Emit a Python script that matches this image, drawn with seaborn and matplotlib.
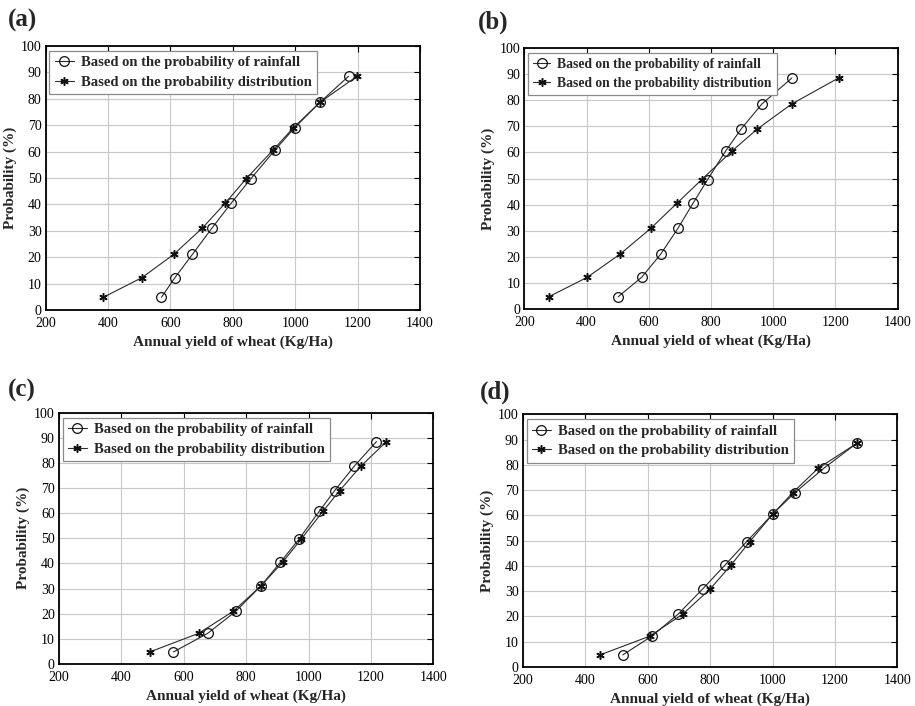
import matplotlib
matplotlib.use("Agg")
import matplotlib.pyplot as plt
import seaborn as sns
import pandas as pd

# Probability levels (%)
prob = [4.8, 12.2, 21.0, 31.0, 40.5, 49.6, 60.7, 69.0, 78.6, 88.5]

# Panel (a)
a_rain = [571, 614, 670, 733, 795, 857, 936, 998, 1079, 1171]
a_dist = [385, 508, 610, 702, 776, 842, 930, 994, 1079, 1198]
# Panel (b)
b_rain = [502, 577, 638, 694, 742, 789, 848, 897, 964, 1060]
b_dist = [279, 402, 507, 607, 690, 770, 869, 949, 1060, 1210]
# Panel (c)
c_rain = [567, 677, 767, 847, 910, 969, 1034, 1084, 1146, 1218]
c_dist = [491, 648, 759, 847, 917, 976, 1046, 1100, 1167, 1250]
# Panel (d)
d_rain = [520, 613, 698, 777, 849, 917, 1002, 1072, 1164, 1270]
d_dist = [447, 606, 713, 801, 868, 927, 1002, 1065, 1146, 1270]

panel_labels = ["(a)", "(b)", "(c)", "(d)"]
series_labels = ["Based on the probability of rainfall",
                 "Based on the probability distribution"]
xlabel = "Annual yield of wheat (Kg/Ha)"
ylabel = "Probability (%)"
xticks = [200, 400, 600, 800, 1000, 1200, 1400]
yticks = [0, 10, 20, 30, 40, 50, 60, 70, 80, 90, 100]

sns.set_style("white")
plt.rcParams["font.family"] = ["Liberation Serif", "DejaVu Serif"]

fig = plt.figure(figsize=(9.15, 7.06), dpi=100)

positions = [
    [0.050, 0.561, 0.409, 0.374],
    [0.573, 0.562, 0.408, 0.370],
    [0.0645, 0.0595, 0.409, 0.356],
    [0.5716, 0.0552, 0.409, 0.358],
]
label_pos = [(8 / 915, 1 - 20 / 706), (478 / 915, 1 - 22 / 706),
             (8 / 915, 1 - 390 / 706), (480 / 915, 1 - 392 / 706)]
legend_sizes = [10.5, 9.8, 10.5, 10.5]

data = [(a_rain, a_dist), (b_rain, b_dist), (c_rain, c_dist), (d_rain, d_dist)]

line_col = "#2a2a2a"
for i, (rain, dist) in enumerate(data):
    ax = fig.add_axes(positions[i])
    df_r = pd.DataFrame({"x": rain, "y": prob})
    df_d = pd.DataFrame({"x": dist, "y": prob})
    sns.lineplot(data=df_r, x="x", y="y", ax=ax, sort=False, color=line_col,
                 lw=0.8, marker="o", markersize=7, markerfacecolor="none",
                 markeredgecolor="#111111", markeredgewidth=0.9,
                 label=series_labels[0])
    sns.lineplot(data=df_d, x="x", y="y", ax=ax, sort=False, color=line_col,
                 lw=0.8, marker=(6, 2, 0), markersize=6,
                 markeredgecolor="#111111", markeredgewidth=1.1,
                 label=series_labels[1])
    ax.set_xlim(200, 1400)
    ax.set_ylim(0, 100)
    ax.set_xticks(xticks)
    ax.set_yticks(yticks)
    ax.grid(True, color="#c8c8c8", lw=0.8)
    ax.set_axisbelow(True)
    for s in ax.spines.values():
        s.set_visible(True)
        s.set_color("black")
        s.set_linewidth(1.3)
    ax.tick_params(direction="in", length=4, width=0.8, top=True, right=True,
                   labelsize=10, colors="black")
    ax.tick_params(axis="x", pad=5)
    ax.tick_params(axis="y", pad=3)
    ax.set_xlabel(xlabel, fontsize=11, fontweight="bold", labelpad=4)
    ax.set_ylabel(ylabel, fontsize=11, fontweight="bold", labelpad=3)
    leg = ax.legend(loc="upper left", bbox_to_anchor=(0.01, 0.98),
                    frameon=True, fancybox=False, edgecolor="#8a8a8a",
                    framealpha=1, handlelength=1.3, handletextpad=0.5,
                    borderpad=0.35, labelspacing=0.45, borderaxespad=0.0,
                    prop={"family": "Liberation Serif", "weight": "bold",
                          "size": legend_sizes[i]})
    leg.get_frame().set_linewidth(0.9)
    fig.text(label_pos[i][0], label_pos[i][1], panel_labels[i],
             fontsize=18, fontweight="bold", va="center", ha="left")

fig.savefig("out.png", dpi=100)
